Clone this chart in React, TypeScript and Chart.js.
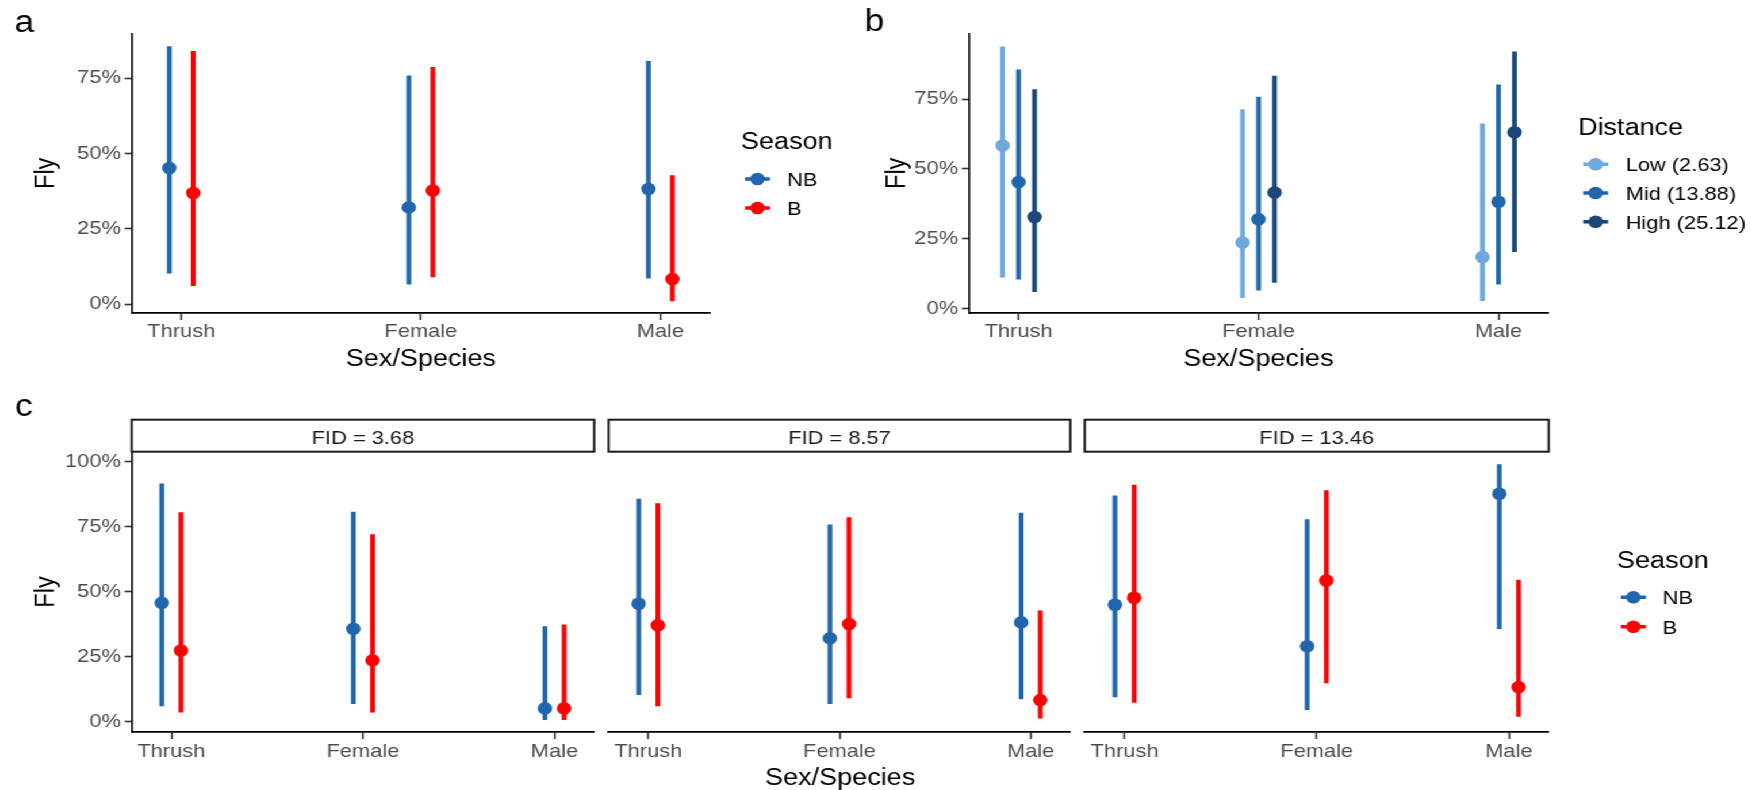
import React, { useEffect, useRef } from 'react';
import { Chart, registerables } from 'chart.js';

Chart.register(...registerables);

// The figure is laid out in page pixels; canvases are drawn narrower and
// widened by STRETCH, so every page x coordinate is divided by it on canvas.
const STRETCH = 1.15;
const PAGE_W = 1751;
const PAGE_H = 790;
const FONT = '"Liberation Sans", Arial, Helvetica, sans-serif';
const TICK_COLOR = '#4D4D4D';

const categories = ['Thrush', 'Female', 'Male'];
const ticksTopRow = [0, 25, 50, 75];
const ticksFacets = [0, 25, 50, 75, 100];

const seasonNames = ['NB', 'B'];
const seasonColors = ['#2166AC', '#FF0000'];

// a: predicted probability of flying (%) with 95% interval, by season
const aNbFly = [45.2, 32.1, 38.2];
const aNbLo = [10.3, 6.6, 8.6];
const aNbHi = [85.5, 75.8, 80.6];
const aBFly = [36.9, 37.7, 8.3];
const aBLo = [6.1, 9.0, 1.1];
const aBHi = [83.9, 78.6, 42.7];

// b: by starting distance
const distanceNames = ['Low (2.63)', 'Mid (13.88)', 'High (25.12)'];
const distanceColors = ['#6FA8DC', '#2166AC', '#1B4879'];
const bLowFly = [58.4, 23.7, 18.5];
const bLowLo = [11.3, 4.0, 2.9];
const bLowHi = [93.7, 71.2, 66.1];
const bMidFly = [45.3, 32.0, 38.3];
const bMidLo = [10.6, 6.7, 8.8];
const bMidHi = [85.4, 75.7, 80.1];
const bHighFly = [32.8, 41.6, 63.1];
const bHighLo = [6.1, 9.4, 20.4];
const bHighHi = [78.4, 83.2, 91.9];

// c: by season, one facet per flight initiation distance
const fidLabels = ['FID = 3.68', 'FID = 8.57', 'FID = 13.46'];
const c1NbFly = [45.6, 35.6, 5.0];
const c1NbLo = [6.0, 6.8, 0.7];
const c1NbHi = [91.4, 80.6, 36.5];
const c1BFly = [27.3, 23.5, 5.0];
const c1BLo = [3.5, 3.5, 0.7];
const c1BHi = [80.4, 71.9, 37.2];
const c2NbFly = [45.3, 32.0, 38.1];
const c2NbLo = [10.3, 6.8, 8.6];
const c2NbHi = [85.6, 75.7, 80.2];
const c2BFly = [37.0, 37.5, 8.2];
const c2BLo = [6.0, 9.0, 1.2];
const c2BHi = [83.8, 78.4, 42.6];
const c3NbFly = [44.9, 28.9, 87.6];
const c3NbLo = [9.4, 4.5, 35.7];
const c3NbHi = [86.8, 77.7, 98.8];
const c3BFly = [47.6, 54.2, 13.2];
const c3BLo = [7.3, 14.8, 1.9];
const c3BHi = [91.0, 88.8, 54.4];

const DODGE = 0.2;
const X_EXPAND = 0.207;
const Y_AXIS_W = 62;
const X_AXIS_H = 32;
const BAR_W = 3.5;
const POINT_R = 6.3;
const TICK_SIZE = 19;

type Series = { color: string; fly: number[]; lo: number[]; hi: number[] };
type Box = { x: number; y: number; w: number; h: number };
type Area = { l: number; t: number; r: number; b: number };

class Ink {
  ctx: CanvasRenderingContext2D;
  ox: number;
  oy: number;
  constructor(ctx: CanvasRenderingContext2D, ox: number, oy: number) {
    this.ctx = ctx;
    this.ox = ox;
    this.oy = oy;
  }
  x(p: number) {
    return p / STRETCH - this.ox;
  }
  y(p: number) {
    return p - this.oy;
  }
  textLocal(s: string, x: number, y: number, size: number, color = '#000', align: CanvasTextAlign = 'left') {
    const c = this.ctx;
    c.save();
    c.font = `${size}px ${FONT}`;
    c.fillStyle = color;
    c.textAlign = align;
    c.textBaseline = 'alphabetic';
    c.fillText(s, x, y);
    c.restore();
  }
  text(s: string, px: number, baseline: number, size: number, color = '#000', align: CanvasTextAlign = 'left') {
    this.textLocal(s, this.x(px), this.y(baseline), size, color, align);
  }
  vtext(s: string, baselineX: number, centerY: number, size: number) {
    const c = this.ctx;
    c.save();
    c.translate(this.x(baselineX), this.y(centerY));
    c.rotate(-Math.PI / 2);
    c.font = `${size}px ${FONT}`;
    c.fillStyle = '#000';
    c.textAlign = 'center';
    c.textBaseline = 'alphabetic';
    c.fillText(s, 0, 0);
    c.restore();
  }
  legend(title: string, names: string[], colors: string[], tx: number, ty: number, keyX: number, labelX: number, ys: number[]) {
    const c = this.ctx;
    this.text(title, tx, ty, 23.5);
    names.forEach((name, i) => {
      const cy = this.y(ys[i]);
      c.save();
      c.strokeStyle = colors[i];
      c.lineWidth = BAR_W;
      c.lineCap = 'butt';
      c.beginPath();
      c.moveTo(this.x(keyX - 12.5), cy);
      c.lineTo(this.x(keyX + 12.5), cy);
      c.stroke();
      c.fillStyle = colors[i];
      c.beginPath();
      c.arc(this.x(keyX), cy, POINT_R, 0, Math.PI * 2);
      c.fill();
      c.restore();
      this.text(name, labelX, ys[i] + 6.8, 19);
    });
  }
  strip(chart: Chart, label: string, baseline: number) {
    const c = this.ctx;
    const { left, right, top } = chart.chartArea;
    const h = 32;
    c.save();
    c.fillStyle = '#FFFFFF';
    c.fillRect(left, top - h, right - left, h);
    c.strokeStyle = '#1A1A1A';
    c.lineWidth = 2;
    c.strokeRect(left, top - h, right - left, h);
    c.restore();
    this.textLocal(label, (left + right) / 2, this.y(baseline), 19, '#1A1A1A', 'center');
  }
}

interface PanelSpec {
  id: string;
  box: Box;
  area: Area;
  yRange: [number, number];
  yTicks: number[] | null;
  xPad: number;
  series: Series[];
  decorate: (ink: Ink, chart: Chart) => void;
}

const seasonPanel = (fly: number[][], lo: number[][], hi: number[][]): Series[] =>
  seasonColors.map((color, k) => ({ color, fly: fly[k], lo: lo[k], hi: hi[k] }));

const panels: PanelSpec[] = [
  {
    id: 'a',
    box: { x: 0, y: 0, w: 860, h: 385 },
    area: { l: 131.7, t: 33.3, r: 710, b: 313.3 },
    yRange: [-3.05, 89.9],
    yTicks: ticksTopRow,
    xPad: 0.8,
    series: seasonPanel([aNbFly, aBFly], [aNbLo, aBLo], [aNbHi, aBHi]),
    decorate: (ink) => {
      ink.text('a', 14.5, 32, 31);
      ink.vtext('Fly', 54.5, 173.3, 23.5);
      ink.text('Sex/Species', 420.9, 365.5, 23.5, '#000', 'center');
      ink.legend('Season', seasonNames, seasonColors, 741, 149, 757.5, 787.3, [179, 208]);
    },
  },
  {
    id: 'b',
    box: { x: 860, y: 0, w: 891, h: 385 },
    area: { l: 968.9, t: 33.3, r: 1548.2, b: 313.3 },
    yRange: [-1.6, 98.5],
    yTicks: ticksTopRow,
    xPad: 0.8,
    series: [
      { color: distanceColors[0], fly: bLowFly, lo: bLowLo, hi: bLowHi },
      { color: distanceColors[1], fly: bMidFly, lo: bMidLo, hi: bMidHi },
      { color: distanceColors[2], fly: bHighFly, lo: bHighLo, hi: bHighHi },
    ],
    decorate: (ink) => {
      ink.text('b', 864.5, 31, 31);
      ink.vtext('Fly', 905.5, 173.3, 23.5);
      ink.text('Sex/Species', 1258.5, 365.5, 23.5, '#000', 'center');
      ink.legend('Distance', distanceNames, distanceColors, 1578, 135, 1595.7, 1625.7, [164.2, 193, 221.8]);
    },
  },
  {
    id: 'c1',
    box: { x: 0, y: 385, w: 601, h: 405 },
    area: { l: 131.7, t: 451.7, r: 596.3, b: 732.3 },
    yRange: [-4.2, 103.8],
    yTicks: ticksFacets,
    xPad: 1,
    series: seasonPanel([c1NbFly, c1BFly], [c1NbLo, c1BLo], [c1NbHi, c1BHi]),
    decorate: (ink, chart) => {
      ink.text('c', 15, 416, 31);
      ink.vtext('Fly', 54.5, 592, 23.5);
      ink.strip(chart, fidLabels[0], 444);
    },
  },
  {
    id: 'c2',
    box: { x: 601, y: 385, w: 477, h: 405 },
    area: { l: 607.3, t: 451.7, r: 1072.7, b: 732.3 },
    yRange: [-4.2, 103.8],
    yTicks: null,
    xPad: 1,
    series: seasonPanel([c2NbFly, c2BFly], [c2NbLo, c2BLo], [c2NbHi, c2BHi]),
    decorate: (ink, chart) => {
      ink.strip(chart, fidLabels[1], 444);
      ink.text('Sex/Species', 840.2, 784.5, 23.5, '#000', 'center');
    },
  },
  {
    id: 'c3',
    box: { x: 1078, y: 385, w: 673, h: 405 },
    area: { l: 1083.9, t: 451.7, r: 1548.7, b: 732.3 },
    yRange: [-4.2, 103.8],
    yTicks: null,
    xPad: 1,
    series: seasonPanel([c3NbFly, c3BFly], [c3NbLo, c3BLo], [c3NbHi, c3BHi]),
    decorate: (ink, chart) => {
      ink.strip(chart, fidLabels[2], 444);
      ink.legend('Season', seasonNames, seasonColors, 1617, 568, 1633.4, 1662.6, [597.3, 626.7]);
    },
  },
];

function canvasFrame(box: Box) {
  const px = Math.round(box.x / STRETCH);
  const pw = Math.round((box.x + box.w) / STRETCH) - px;
  return { px, pw };
}

function buildConfig(spec: PanelSpec): any {
  const { px, pw } = canvasFrame(spec.box);
  const n = spec.series.length;
  const step = DODGE / n;
  const datasets: any[] = [];
  spec.series.forEach((s, k) => {
    const off = -DODGE / 2 + step / 2 + k * step;
    datasets.push({
      type: 'bar',
      data: categories.map((_, i) => ({ x: i + off, y: [s.lo[i], s.hi[i]] })),
      backgroundColor: s.color,
      borderWidth: 0,
      barThickness: BAR_W,
      maxBarThickness: BAR_W,
      grouped: false,
      order: 2,
    });
    datasets.push({
      type: 'scatter',
      data: categories.map((_, i) => ({ x: i + off, y: s.fly[i] })),
      backgroundColor: s.color,
      borderColor: s.color,
      pointRadius: POINT_R,
      pointBorderWidth: 0,
      order: 1,
    });
  });

  const a = spec.area;
  const yW = spec.yTicks ? Y_AXIS_W : 0;
  const padding = {
    left: a.l / STRETCH - px - yW,
    right: px + pw - a.r / STRETCH,
    top: a.t - spec.box.y,
    bottom: spec.box.y + spec.box.h - a.b - X_AXIS_H,
  };
  const tickFont = { family: FONT, size: TICK_SIZE };
  const yTicks = spec.yTicks;

  const yScale: any = yTicks
    ? {
        type: 'linear',
        min: spec.yRange[0],
        max: spec.yRange[1],
        bounds: 'data',
        afterBuildTicks: (s: any) => {
          s.ticks = yTicks.map((v) => ({ value: v }));
        },
        afterFit: (s: any) => {
          s.width = Y_AXIS_W;
          s.paddingTop = 0;
          s.paddingBottom = 0;
        },
        ticks: {
          callback: (v: any) => `${v}%`,
          padding: 3.3,
          color: TICK_COLOR,
          font: tickFont,
          autoSkip: false,
        },
        grid: {
          display: true,
          drawOnChartArea: false,
          drawTicks: true,
          tickLength: 7 / STRETCH,
          tickWidth: 1.6,
          tickColor: '#333333',
        },
        border: { display: true, color: '#000000', width: 1.6 },
      }
    : { type: 'linear', display: false, min: spec.yRange[0], max: spec.yRange[1], bounds: 'data' };

  return {
    type: 'bar',
    data: { datasets },
    options: {
      animation: false,
      responsive: false,
      maintainAspectRatio: false,
      devicePixelRatio: 1,
      events: [],
      layout: { padding },
      plugins: { legend: { display: false }, tooltip: { enabled: false }, title: { display: false } },
      scales: {
        x: {
          type: 'linear',
          min: -X_EXPAND,
          max: categories.length - 1 + X_EXPAND,
          bounds: 'data',
          offset: false,
          afterBuildTicks: (s: any) => {
            s.ticks = categories.map((_, i) => ({ value: i }));
          },
          afterFit: (s: any) => {
            s.height = X_AXIS_H;
            s.paddingLeft = 0;
            s.paddingRight = 0;
          },
          ticks: {
            callback: (v: any) => categories[Number(v)] ?? '',
            autoSkip: false,
            maxRotation: 0,
            minRotation: 0,
            padding: spec.xPad,
            color: TICK_COLOR,
            font: tickFont,
          },
          grid: {
            display: true,
            offset: false,
            drawOnChartArea: false,
            drawTicks: true,
            tickLength: 6.7,
            tickWidth: 1.6,
            tickColor: '#333333',
          },
          border: { display: true, color: '#000000', width: 1.7 },
        },
        y: yScale,
      },
    },
    plugins: [
      {
        id: 'decor-' + spec.id,
        afterDraw(chart: Chart) {
          const ink = new Ink(chart.ctx, px, spec.box.y);
          spec.decorate(ink, chart);
        },
      },
    ],
  };
}

function Panel({ spec }: { spec: PanelSpec }) {
  const ref = useRef<HTMLCanvasElement>(null);
  const { px, pw } = canvasFrame(spec.box);
  useEffect(() => {
    if (!ref.current) return;
    const chart = new Chart(ref.current, buildConfig(spec));
    return () => chart.destroy();
  }, [spec]);
  return (
    <canvas
      ref={ref}
      width={pw}
      height={spec.box.h}
      style={{ position: 'absolute', left: px, top: spec.box.y, width: pw, height: spec.box.h }}
    />
  );
}

export default function App() {
  return (
    <div
      style={{
        position: 'fixed',
        left: 0,
        top: 0,
        width: PAGE_W / STRETCH,
        height: PAGE_H,
        background: '#FFFFFF',
        transform: `scaleX(${STRETCH})`,
        transformOrigin: '0 0',
        overflow: 'hidden',
      }}
    >
      {panels.map((p) => (
        <Panel key={p.id} spec={p} />
      ))}
    </div>
  );
}
